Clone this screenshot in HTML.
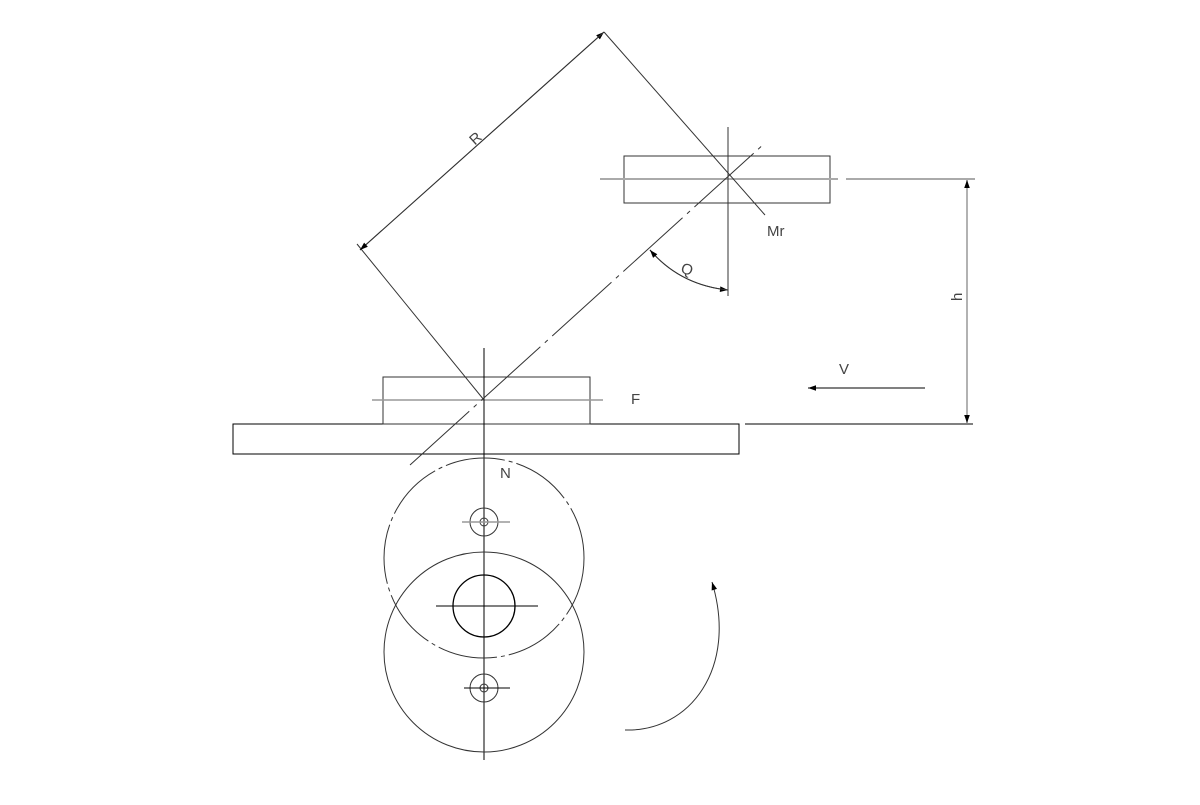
<!DOCTYPE html>
<html><head><meta charset="utf-8"><style>html,body{margin:0;background:#fff}</style></head>
<body>
<svg width="1200" height="800" viewBox="0 0 1200 800" xmlns="http://www.w3.org/2000/svg" font-family="Liberation Sans, sans-serif">
<defs>
<marker id="a" viewBox="0 0 10 10" refX="10" refY="5" markerWidth="12" markerHeight="8" markerUnits="userSpaceOnUse" orient="auto"><path d="M0,1.5 L10,5 L0,8.5z" fill="#000"/></marker>
</defs>
<g fill="none" stroke="#333" stroke-width="1">
<rect x="233" y="424" width="506" height="30" stroke="#000"/>
<rect x="383" y="377" width="207" height="47"/>
<line x1="372" y1="400" x2="603" y2="400" stroke="#999" stroke-width="1.5"/>
<line x1="745" y1="424" x2="973" y2="424" stroke="#000"/>
<line x1="484" y1="348" x2="484" y2="760" stroke="#000"/>
<circle cx="484" cy="558" r="100" stroke-dasharray="60 4 4 4"/>
<circle cx="484" cy="652" r="100"/>
<circle cx="484" cy="606" r="31" stroke="#000" stroke-width="1.3"/>
<line x1="436" y1="606" x2="538" y2="606" stroke="#000"/>
<circle cx="484" cy="522" r="14"/>
<circle cx="484" cy="522" r="4"/>
<line x1="462" y1="522" x2="510" y2="522" stroke="#999" stroke-width="1.5"/>
<circle cx="484" cy="688" r="14"/>
<circle cx="484" cy="688" r="4"/>
<line x1="464" y1="688" x2="510" y2="688" stroke="#000"/>
<rect x="624" y="156" width="206" height="47"/>
<line x1="600" y1="179" x2="838" y2="179" stroke="#aaa" stroke-width="2"/>
<line x1="846" y1="179" x2="975" y2="179" stroke="#aaa" stroke-width="2"/>
<line x1="728" y1="127" x2="728" y2="296"/>
<line x1="410" y1="465" x2="765" y2="143" stroke-dasharray="80 6 4 6"/>
<line x1="604" y1="32" x2="765" y2="215"/>
<line x1="357" y1="244" x2="484" y2="400"/>
<line x1="360" y1="250" x2="604" y2="32" marker-end="url(#a)"/>
<line x1="604" y1="32" x2="360" y2="250" marker-end="url(#a)"/>
<path d="M650,250 Q680,285 728,290" marker-end="url(#a)"/>
<path d="M728,290 Q680,285 650,250" marker-end="url(#a)"/>
<line x1="967" y1="300" x2="967" y2="180" stroke="#999" stroke-width="1.5" marker-end="url(#a)"/>
<line x1="967" y1="300" x2="967" y2="423" stroke="#999" stroke-width="1.5" marker-end="url(#a)"/>
<line x1="925" y1="388" x2="808" y2="388" stroke="#000" marker-end="url(#a)"/>
<path d="M625,730 C690,732 738,668 712,582" marker-end="url(#a)"/>
</g>
<g fill="#444" font-size="15">
<text x="470" y="143" transform="rotate(-42 476 138)">R</text>
<text x="767" y="236">Mr</text>
<text x="681" y="274" transform="rotate(20 686 270)">Q</text>
<text x="960" y="309" transform="rotate(-90 957 304)">h</text>
<text x="839" y="374">V</text>
<text x="631" y="404">F</text>
<text x="500" y="478">N</text>
</g>
</svg>
</body></html>
